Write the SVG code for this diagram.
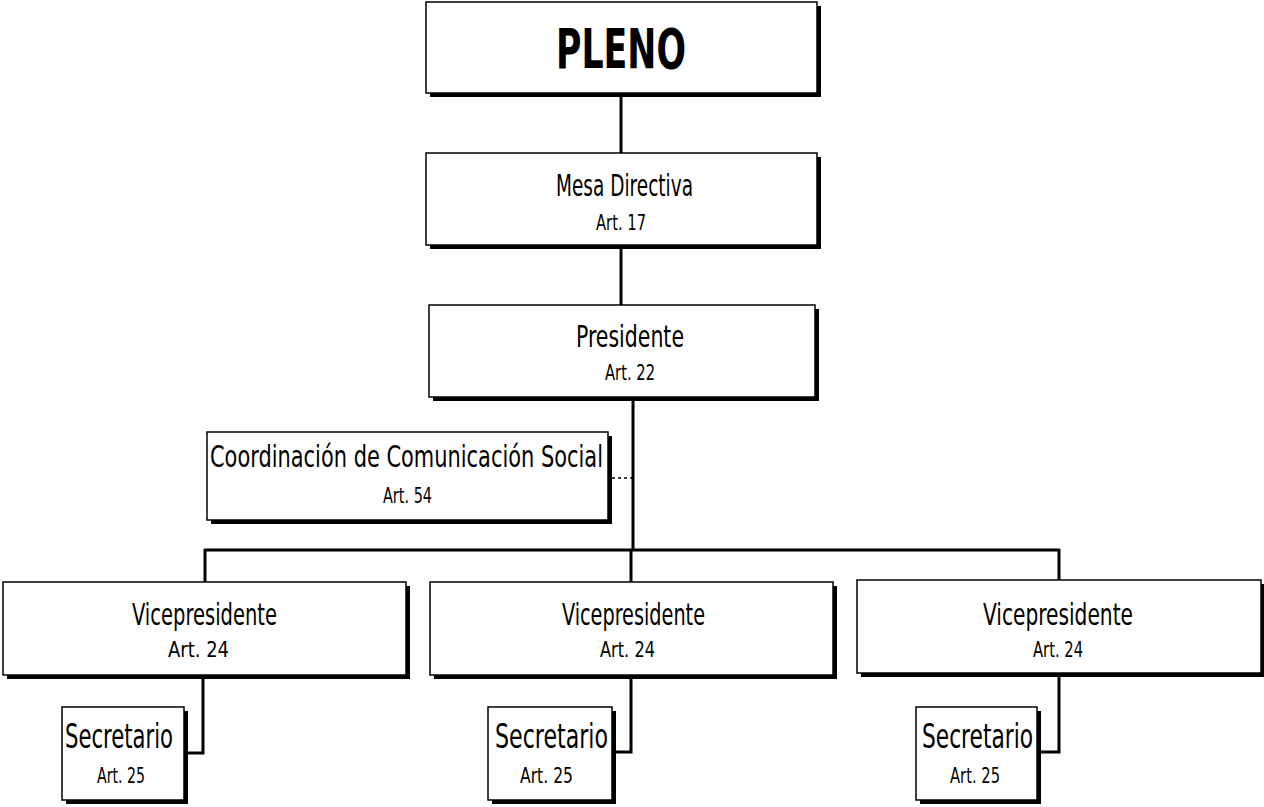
<svg xmlns="http://www.w3.org/2000/svg" width="1264" height="807" viewBox="0 0 1264 807">
<style>
.sh{fill:#000}
.bx{fill:#fff;stroke:#000;stroke-width:1.5}
.t{font-family:"DejaVu Sans Condensed","DejaVu Sans",sans-serif;fill:#000;text-anchor:start}
.m{font-size:31px}
.a{font-size:22px}
.s{font-size:34px}
.c{stroke:#000;stroke-width:3;fill:none}
.d{stroke:#000;stroke-width:1.5;fill:none;stroke-dasharray:3 3}
</style>
<rect width="1264" height="807" fill="#fff"/>
<g id="connectors">
<line class="c" x1="621" y1="97" x2="621" y2="153"/>
<line class="c" x1="621" y1="249" x2="621" y2="305"/>
<line class="c" x1="633" y1="401" x2="633" y2="551"/>
<line class="c" x1="204" y1="550" x2="1060" y2="550"/>
<line class="c" x1="205" y1="549" x2="205" y2="582"/>
<line class="c" x1="631" y1="549" x2="631" y2="582"/>
<line class="c" x1="1059" y1="549" x2="1059" y2="580"/>
<line class="d" x1="612" y1="478" x2="633" y2="478"/>
<polyline class="c" points="203,679 203,753 188,753"/>
<polyline class="c" points="631,679 631,752 616,752"/>
<polyline class="c" points="1059,677 1059,752 1041,752"/>
</g>
<g id="pleno">
<rect class="sh" x="430" y="6" width="391" height="91"/>
<rect class="bx" x="426" y="2" width="391" height="91"/>
<text class="t" x="556" y="68" font-size="55" font-weight="bold" textLength="130" lengthAdjust="spacingAndGlyphs">PLENO</text>
</g>
<g id="mesa">
<rect class="sh" x="430" y="157" width="391" height="92"/>
<rect class="bx" x="426" y="153" width="391" height="92"/>
<text class="t m" x="556" y="196" textLength="137" lengthAdjust="spacingAndGlyphs">Mesa Directiva</text>
<text class="t a" x="596" y="230" textLength="50" lengthAdjust="spacingAndGlyphs">Art. 17</text>
</g>
<g id="presidente">
<rect class="sh" x="433" y="309" width="386" height="92"/>
<rect class="bx" x="429" y="305" width="386" height="92"/>
<text class="t m" x="576" y="347" textLength="108" lengthAdjust="spacingAndGlyphs">Presidente</text>
<text class="t a" x="605" y="380" textLength="50" lengthAdjust="spacingAndGlyphs">Art. 22</text>
</g>
<g id="coordinacion">
<rect class="sh" x="211" y="436" width="401" height="88"/>
<rect class="bx" x="207" y="432" width="401" height="88"/>
<text class="t m" x="210" y="467" textLength="393" lengthAdjust="spacingAndGlyphs">Coordinación de Comunicación Social</text>
<text class="t a" x="383" y="503" textLength="49" lengthAdjust="spacingAndGlyphs">Art. 54</text>
</g>
<g id="vp1">
<rect class="sh" x="7" y="586" width="403" height="93"/>
<rect class="bx" x="3" y="582" width="403" height="93"/>
<text class="t m" x="132" y="625" textLength="145" lengthAdjust="spacingAndGlyphs">Vicepresidente</text>
<text class="t a" x="168" y="657" textLength="61" lengthAdjust="spacingAndGlyphs">Art. 24</text>
</g>
<g id="vp2">
<rect class="sh" x="434" y="586" width="403" height="93"/>
<rect class="bx" x="430" y="582" width="403" height="93"/>
<text class="t m" x="562" y="625" textLength="143" lengthAdjust="spacingAndGlyphs">Vicepresidente</text>
<text class="t a" x="600" y="657" textLength="55" lengthAdjust="spacingAndGlyphs">Art. 24</text>
</g>
<g id="vp3">
<rect class="sh" x="861" y="584" width="404" height="93"/>
<rect class="bx" x="857" y="580" width="404" height="93"/>
<text class="t m" x="983" y="625" textLength="150" lengthAdjust="spacingAndGlyphs">Vicepresidente</text>
<text class="t a" x="1033" y="657" textLength="50" lengthAdjust="spacingAndGlyphs">Art. 24</text>
</g>
<g id="sec1">
<rect class="sh" x="66" y="711" width="122" height="93"/>
<rect class="bx" x="62" y="707" width="122" height="93"/>
<text class="t s" x="65" y="748" textLength="108" lengthAdjust="spacingAndGlyphs">Secretario</text>
<text class="t a" x="97" y="783" textLength="48" lengthAdjust="spacingAndGlyphs">Art. 25</text>
</g>
<g id="sec2">
<rect class="sh" x="492" y="711" width="124" height="93"/>
<rect class="bx" x="488" y="707" width="124" height="93"/>
<text class="t s" x="495" y="748" textLength="113" lengthAdjust="spacingAndGlyphs">Secretario</text>
<text class="t a" x="520" y="783" textLength="53" lengthAdjust="spacingAndGlyphs">Art. 25</text>
</g>
<g id="sec3">
<rect class="sh" x="920" y="711" width="121" height="93"/>
<rect class="bx" x="916" y="707" width="121" height="93"/>
<text class="t s" x="922" y="748" textLength="111" lengthAdjust="spacingAndGlyphs">Secretario</text>
<text class="t a" x="950" y="783" textLength="50" lengthAdjust="spacingAndGlyphs">Art. 25</text>
</g>
</svg>
